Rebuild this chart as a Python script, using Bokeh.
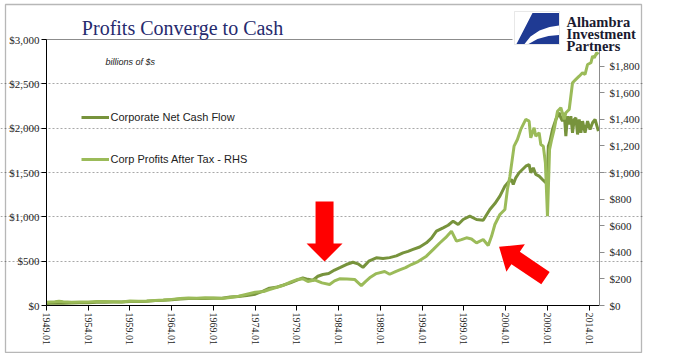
import math
from bokeh.plotting import figure
from bokeh.models import (Range1d, LinearAxis, FixedTicker, NumeralTickFormatter, Legend,
                          LegendItem, Label, BoxAnnotation, PolyAnnotation, Grid)
from bokeh.embed import file_html
from bokeh.resources import INLINE

# ---------------- data ----------------
cash_years = [1949.0, 1950.0, 1951.0, 1952.0, 1953.0, 1954.0, 1955.0, 1956.0, 1957.0, 1958.0,
              1959.0, 1960.0, 1961.0, 1962.0, 1963.0, 1964.0, 1965.0, 1966.0, 1967.0, 1968.0,
              1969.0, 1970.0, 1971.0, 1972.0, 1973.0, 1974.0, 1975.0, 1975.7, 1976.5, 1977.3,
              1978.2, 1979.0, 1979.7, 1980.3, 1980.9, 1981.5, 1982.1, 1982.8, 1983.5, 1984.2,
              1984.9, 1985.7, 1986.3, 1986.9, 1987.6, 1988.5, 1989.3, 1990.1, 1990.9, 1991.7,
              1992.3, 1992.9, 1993.7, 1994.5, 1995.1, 1995.7, 1996.5, 1997.1, 1997.7, 1998.3,
              1998.9, 1999.7, 2000.5, 2001.3, 2002.1, 2002.7, 2003.3, 2003.9, 2004.3, 2004.7,
              2004.9, 2005.2, 2005.6, 2006.0, 2006.4, 2006.8, 2007.0, 2007.3, 2007.6, 2008.0,
              2008.4, 2008.8, 2009.0, 2009.1, 2009.3, 2009.6, 2010.0, 2010.4, 2010.6, 2010.8,
              2011.0, 2011.2, 2011.4, 2011.6, 2011.8, 2012.0, 2012.2, 2012.4, 2012.6, 2012.8,
              2013.0, 2013.2, 2013.5, 2013.8, 2014.1, 2014.4, 2014.7, 2015.1]
cash_flow = [22, 28, 26, 28, 30, 32, 38, 38, 40, 40,
             45, 46, 48, 55, 58, 66, 72, 78, 78, 80,
             82, 82, 95, 102, 112, 128, 165, 195, 205, 228,
             255, 285, 312, 295, 285, 330, 350, 360, 400, 430,
             462, 488, 470, 430, 500, 538, 530, 540, 560, 594,
             610, 632, 660, 707, 760, 838, 876, 905, 951, 914,
             970, 1007, 970, 962, 1083, 1150, 1233, 1346, 1390, 1421,
             1365, 1440, 1497, 1534, 1571, 1590, 1497, 1553, 1478, 1459,
             1421, 1384, 1497, 1797, 1853, 1985, 2098, 2174, 2117, 2079,
             2174, 1910, 2135, 2042, 2135, 1948, 2098, 2117, 1929, 2098,
             1948, 2079, 1948, 2079, 1985, 2061, 2098, 1966]

profit_years = [1949.0, 1950.0, 1950.5, 1951.0, 1952.0, 1953.0, 1954.0, 1955.0, 1956.0, 1957.0,
                1958.0, 1959.0, 1960.0, 1961.0, 1962.0, 1963.0, 1964.0, 1965.0, 1966.0, 1967.0,
                1968.0, 1969.0, 1970.0, 1971.0, 1972.0, 1973.0, 1974.0, 1975.0, 1975.7, 1976.5,
                1977.3, 1978.2, 1979.0, 1979.7, 1980.3, 1981.1, 1982.0, 1982.9, 1983.5, 1984.1,
                1985.0, 1985.9, 1986.7, 1987.2, 1987.7, 1988.5, 1989.5, 1990.1, 1990.8, 1991.3,
                1992.0, 1992.7, 1993.5, 1994.5, 1995.3, 1996.1, 1996.8, 1997.5, 1998.1, 1998.7,
                1999.3, 1999.9, 2000.5, 2001.3, 2001.9, 2002.3, 2002.7, 2003.3, 2003.9, 2004.2,
                2004.5, 2005.0, 2005.4, 2005.8, 2006.4, 2006.8, 2007.0, 2007.4, 2007.6, 2008.0,
                2008.2, 2008.5, 2008.75, 2009.0, 2009.25, 2009.5, 2009.8, 2010.2, 2010.6, 2011.0,
                2011.2, 2011.6, 2012.0, 2012.4, 2012.8, 2013.2, 2013.5, 2013.8, 2014.2, 2014.4,
                2014.6, 2014.9, 2015.1]
profits = [24, 28, 32, 28, 25, 26, 26, 30, 30, 29,
           27, 33, 32, 33, 38, 41, 46, 53, 56, 54,
           58, 56, 52, 60, 70, 85, 100, 105, 120, 135,
           150, 175, 195, 201, 180, 192, 170, 158, 185, 201,
           200, 196, 150, 180, 208, 240, 256, 235, 255, 268,
           285, 308, 330, 371, 420, 470, 510, 559, 484, 495,
           509, 500, 471, 496, 451, 520, 609, 684, 722, 872,
           972, 1198, 1248, 1324, 1399, 1386, 1261, 1336, 1273, 1299,
           1211, 1198, 1073, 672, 1173, 1248, 1324, 1461, 1487, 1399,
           1449, 1474, 1675, 1700, 1724, 1750, 1737, 1812, 1825, 1875,
           1863, 1900, 1888]

tick_years = [1949, 1954, 1959, 1964, 1969, 1974, 1979, 1984, 1989, 1994, 1999, 2004, 2009, 2014]
tick_labels = ["1949.01", "1954.01", "1959.01", "1964.01", "1969.01", "1974.01", "1979.01",
               "1984.01", "1989.01", "1994.01", "1999.01", "2004.01", "2009.01", "2014.01"]
left_ticks = [0, 500, 1000, 1500, 2000, 2500, 3000]
right_ticks = [0, 200, 400, 600, 800, 1000, 1200, 1400, 1600, 1800]

# ---------------- geometry ----------------
OX, OY = 1, 1              # canvas origin in the picture
W, H = 643, 353            # canvas size (the frame fills the canvas)
PX_L, PX_R, PY_T, PY_B = 47, 600, 40, 306   # plot area in picture pixels
X0, X1 = 1949.0, 2015.23
YPP = (X1 - X0) / (PX_R - PX_L)     # years per pixel
VPP = 3000 / (PY_B - PY_T)          # dollars per pixel (left axis)
RPP = 2000 / (PY_B - PY_T)          # dollars per pixel (right axis)

xr = Range1d(X0 - (PX_L - OX) * YPP, X0 - (PX_L - OX) * YPP + W * YPP)
yr = Range1d((PY_B - (OY + H)) * VPP, (PY_B - OY) * VPP)

p = figure(width=W, height=H, x_range=xr, y_range=yr, output_backend="svg",
           toolbar_location=None, x_axis_location=None, y_axis_location=None,
           title_location=None, min_border=0)
p.outline_line_color = None
p.background_fill_color = "white"
p.border_fill_color = "white"
p.extra_y_ranges = {"rhs": Range1d((PY_B - (OY + H)) * RPP, (PY_B - OY) * RPP)}


def sx(px):   # picture x -> screen offset from frame left
    return px - OX


def sy(py):   # picture y -> screen offset above frame bottom
    return OY + H - py


# grid
p.xgrid.visible = False
p.ygrid.visible = False
grid = Grid(dimension=1, ticker=FixedTicker(ticks=left_ticks[1:-1]), bounds=(X0, X1),
            grid_line_color="#a8a8a8", grid_line_dash="2 2")
p.add_layout(grid)
p.segment(x0=[X0], y0=[3000], x1=[X1], y1=[3000], line_color="#8c8c8c", line_width=1)

r1 = p.line(cash_years, cash_flow, line_color="#77933C", line_width=3)
r2 = p.line(profit_years, profits, line_color="#9BBB59", line_width=3, y_range_name="rhs")


def style_axis(ax, color, size, standoff):
    ax.major_label_text_font = "Liberation Serif"
    ax.major_label_text_font_size = size
    ax.major_label_text_color = "#1e1e1e"
    ax.major_label_standoff = standoff
    ax.axis_line_color = color
    ax.major_tick_line_color = color
    ax.major_tick_out = 5
    ax.major_tick_in = 0
    ax.minor_tick_line_color = None


xa = LinearAxis(ticker=FixedTicker(ticks=tick_years), fixed_location=0, bounds=(X0, X1))
xa.major_label_overrides = dict(zip(tick_years, tick_labels))
xa.major_label_orientation = "vertical"
style_axis(xa, "black", "10px", 2)
p.add_layout(xa, "below")

ya = LinearAxis(ticker=FixedTicker(ticks=left_ticks), formatter=NumeralTickFormatter(format="$0,0"),
                fixed_location=X0, bounds=(0, 3000))
style_axis(ya, "black", "11px", 2)
p.add_layout(ya, "left")

ra = LinearAxis(y_range_name="rhs", ticker=FixedTicker(ticks=right_ticks),
                formatter=NumeralTickFormatter(format="$0,0"), fixed_location=X1, bounds=(0, 2000))
style_axis(ra, "#8c8c8c", "11px", 5)
p.add_layout(ra, "right")

# legend
legend = Legend(items=[LegendItem(label="Corporate Net Cash Flow", renderers=[r1]),
                       LegendItem(label="Corp Profits After Tax - RHS", renderers=[r2])],
                location=(sx(81.5), sy(167)))
legend.background_fill_alpha = 0
legend.border_line_color = None
legend.padding = 0
legend.margin = 0
legend.spacing = 28
legend.glyph_width = 28
legend.glyph_height = 14
legend.label_height = 14
legend.label_standoff = 2
legend.label_text_font = "Liberation Sans"
legend.label_text_font_size = "11px"
legend.label_text_color = "#222222"
p.add_layout(legend)

S = dict(x_units="screen", y_units="screen")
BS = dict(left_units="screen", right_units="screen", top_units="screen", bottom_units="screen")

# outer border
p.add_layout(BoxAnnotation(left=sx(6), right=sx(642), top=sy(5), bottom=sy(353), **BS,
                           fill_alpha=0, line_color="#111111", line_width=1.3))

# title and note
p.add_layout(Label(x=sx(183), y=sy(28.5), text="Profits Converge to Cash", **S,
                   text_font="Liberation Serif", text_font_size="20px", text_color="#262A6E",
                   text_align="center", text_baseline="alphabetic"))
p.add_layout(Label(x=sx(106), y=sy(62), text="billions of $s", **S,
                   text_font="Liberation Sans", text_font_style="italic", text_font_size="9px",
                   text_color="#222222", text_baseline="alphabetic"))

# logo
p.add_layout(BoxAnnotation(left=sx(513), right=sx(640), top=sy(8), bottom=sy(48), **BS,
                           fill_color="white", fill_alpha=1, line_color=None))
p.add_layout(BoxAnnotation(left=sx(515), right=sx(560), top=sy(12), bottom=sy(45), **BS,
                           fill_color="white", fill_alpha=1, line_color="#b4b4b4", line_width=1))
logo_a = [(533, 13.5), (559.5, 13.5), (559.5, 26), (550, 27.5), (540, 31), (531, 37), (525, 44.5), (517, 44.5)]
logo_b = [(529, 44.5), (538, 39.5), (549, 36.5), (559.5, 35.5), (559.5, 44.5)]
for poly in (logo_a, logo_b):
    p.add_layout(PolyAnnotation(xs=[sx(a) for a, b in poly], ys=[sy(b) for a, b in poly],
                                xs_units="screen", ys_units="screen",
                                fill_color="#1F3A93", fill_alpha=1, line_color=None))
for txt, base in (("Alhambra", 22.5), ("Investment", 34.5), ("Partners", 46)):
    p.add_layout(Label(x=sx(567), y=sy(base), text=txt, **S, text_font="Liberation Serif",
                       text_font_size="14.5px", text_font_style="bold", text_color="#1a1a30",
                       text_baseline="alphabetic"))


# red arrows (tip anchored in data space, size in pixels)
def arrow(tip_x, tip_y, ux, uy, length, head_len, head_w, shaft_w):
    n = math.hypot(ux, uy)
    ux, uy = ux / n, uy / n          # screen direction tail -> tip (y down)
    nx, ny = -uy, ux
    pts = [(0, 0),
           (-ux * head_len + nx * head_w / 2, -uy * head_len + ny * head_w / 2),
           (-ux * head_len + nx * shaft_w / 2, -uy * head_len + ny * shaft_w / 2),
           (-ux * length + nx * shaft_w / 2, -uy * length + ny * shaft_w / 2),
           (-ux * length - nx * shaft_w / 2, -uy * length - ny * shaft_w / 2),
           (-ux * head_len - nx * shaft_w / 2, -uy * head_len - ny * shaft_w / 2),
           (-ux * head_len - nx * head_w / 2, -uy * head_len - ny * head_w / 2)]
    return ([tip_x + dx * YPP for dx, dy in pts], [tip_y - dy * VPP for dx, dy in pts])


for args in ((1982.3, 496, 0, 1, 60, 18, 36, 18),
             (2003.2, 662, -46, -31, 56, 20, 33, 15)):
    xs, ys = arrow(*args)
    p.add_layout(PolyAnnotation(xs=xs, ys=ys, fill_color="#FF0000", fill_alpha=1, line_color=None))

open("out.html", "w").write(file_html(p, INLINE))
